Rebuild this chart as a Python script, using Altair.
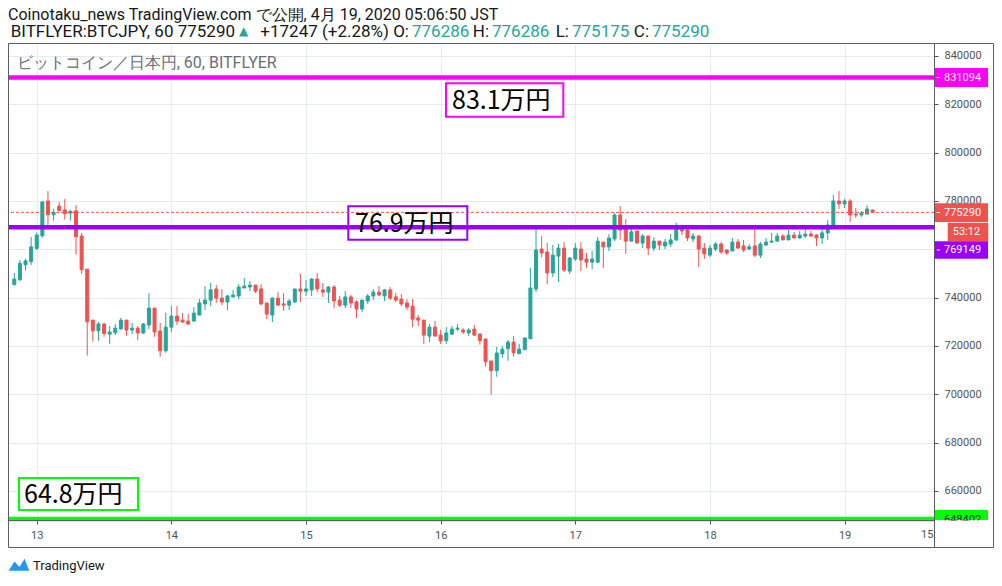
import altair as alt
import pandas as pd

# ---------------- data ----------------
# hourly candles, hours relative to Apr 13 00:00 JST (first = Apr 12 20:00)
hours = list(range(-4, 150))
opens = [745400, 747400, 753600, 754900, 760400, 765600, 780000, 774300, 777900, 776300,
         775000, 775900, 765500, 751800, 730700, 726300, 729100, 724900, 725500, 727100,
         730700, 726600, 727400, 725400, 728700, 735700, 726200, 718000, 727800, 732400,
         730700, 730300, 730300, 732800, 737400, 739000, 743600, 739800, 738200, 740300,
         740700, 744000, 744400, 745200, 743600, 737800, 732800, 739800, 737400, 736900,
         738200, 743600, 742700, 743200, 747700, 743200, 742300, 744400, 739000, 736900,
         740300, 738200, 735300, 738600, 740700, 742300, 740700, 743200, 740300, 739400,
         737800, 736500, 731600, 730700, 724100, 727800, 724500, 722200, 724900, 727000,
         726600, 725400, 727000, 724900, 722900, 713800, 709800, 716800, 718900, 721600,
         716800, 718500, 723000, 743600, 760100, 758900, 750200, 757200, 760500, 751000,
         756000, 760100, 756000, 754700, 754700, 763000, 761000, 764300, 774200, 768800,
         763400, 767600, 762600, 765500, 760500, 763400, 761400, 762200, 763900, 768800,
         768000, 764300, 765500, 760500, 757600, 760100, 762200, 759700, 759300, 763000,
         761400, 760100, 761400, 757600, 761800, 763000, 763400, 765500, 763900, 765900,
         764700, 765500, 766300, 765900, 764700, 766800, 769700, 780000, 778800, 780000,
         774600, 774200, 774600, 776286]
highs = [750200, 755600, 756000, 765100, 767000, 779900, 784100, 776800, 779600, 780800,
         776300, 778300, 766800, 751800, 730700, 729900, 729500, 728300, 729100, 731600,
         730700, 729500, 728300, 729500, 741900, 735700, 729600, 733800, 736500, 736500,
         733600, 733200, 736100, 739400, 744800, 746100, 745200, 743600, 741100, 743200,
         745600, 748100, 746900, 745200, 745600, 737800, 740300, 742300, 741900, 739400,
         743600, 749800, 747300, 748100, 750200, 746100, 744800, 745200, 740700, 742700,
         741100, 739000, 739000, 741500, 743600, 744800, 743600, 744400, 741900, 741500,
         739400, 739400, 732800, 730700, 729100, 730300, 726600, 727800, 728300, 729100,
         727400, 727400, 728700, 725400, 722900, 713800, 719600, 720000, 722500, 724100,
         720800, 723700, 752300, 769400, 765500, 762600, 761800, 762200, 763000, 756800,
         762600, 763000, 758500, 759300, 765100, 763000, 766300, 775000, 777900, 772500,
         769200, 767600, 766300, 765500, 765100, 763400, 764300, 766300, 770900, 769700,
         769700, 766800, 765900, 762600, 761800, 763000, 763000, 760100, 764700, 764300,
         763900, 762200, 770100, 763000, 764700, 766800, 766800, 766300, 768000, 767200,
         767600, 768800, 767600, 766300, 768800, 772100, 782500, 784100, 780800, 780800,
         777100, 775900, 778300, 776286]
lows = [745000, 747000, 751200, 753500, 759700, 764800, 769800, 771900, 775800, 772300,
        771900, 757800, 749900, 716000, 721800, 722200, 723800, 720800, 724500, 726600,
        724200, 724900, 722500, 724900, 727000, 723800, 715600, 717200, 725800, 728700,
        729500, 728700, 730300, 732800, 734900, 736500, 737800, 736900, 734900, 740300,
        739400, 744000, 742700, 741900, 736900, 731100, 729900, 736900, 734500, 734900,
        737800, 738200, 740700, 740700, 742300, 740300, 737800, 735700, 736100, 735700,
        735700, 731600, 734000, 737400, 739000, 740700, 738600, 739000, 738200, 736500,
        734900, 727800, 728300, 720800, 721600, 724100, 720800, 720900, 724500, 726200,
        724900, 724100, 724100, 720500, 711400, 699800, 707300, 715100, 713900, 715600,
        716800, 718500, 723000, 742300, 756800, 745600, 748500, 746500, 750600, 749800,
        755200, 751000, 752300, 751800, 754300, 752300, 759300, 763400, 763900, 758100,
        763400, 762600, 760500, 757600, 759300, 759700, 760100, 761000, 763400, 765900,
        763400, 763000, 752700, 756000, 756800, 759300, 758100, 757600, 759300, 760500,
        758900, 759700, 756800, 756400, 761400, 762600, 763400, 763900, 763900, 764700,
        764300, 764700, 765100, 761400, 762200, 763900, 768400, 776700, 777100, 771300,
        773000, 773400, 774600, 775175]
closes = [747700, 754200, 755200, 761000, 765900, 779600, 774300, 775300, 776000, 774800,
          775700, 765200, 751600, 730000, 726300, 729100, 725200, 725800, 727400, 730700,
          726600, 727400, 725400, 729100, 735700, 725800, 718000, 727800, 732400, 730300,
          729900, 729100, 733600, 737800, 739000, 743200, 739800, 738200, 740700, 741100,
          744400, 744800, 745200, 742700, 737400, 733200, 739800, 736900, 736900, 738600,
          743600, 742700, 743600, 747700, 743600, 742300, 744400, 738600, 736900, 740300,
          737800, 735300, 739000, 740700, 742300, 741100, 743200, 739800, 739000, 737400,
          736100, 731100, 730700, 724500, 727800, 724100, 722100, 725400, 727000, 727400,
          725800, 726600, 724500, 722200, 713500, 709800, 717100, 718700, 721600, 717200,
          718700, 723300, 744000, 759700, 758500, 750200, 757600, 760500, 751400, 756400,
          760500, 755600, 754700, 756000, 763400, 761000, 764700, 774200, 768000, 763400,
          767200, 762600, 765500, 760500, 763400, 761800, 763000, 763900, 768400, 767600,
          764700, 765500, 760100, 758100, 760500, 762200, 758900, 758500, 763000, 760500,
          759700, 761000, 757600, 762200, 763000, 763400, 765500, 763900, 765900, 764700,
          765900, 766300, 765500, 764700, 766800, 770100, 780000, 778800, 780000, 774200,
          774200, 775000, 776700, 775290]

day_ticks = [0, 24, 48, 72, 96, 120, 144]
day_names = ["13", "14", "15", "16", "17", "18", "19"]
price_ticks = [660000, 680000, 700000, 720000, 740000, 760000, 780000, 800000, 820000, 840000]
level_prices = [831094, 769149, 648402]
level_colors = ["#ff00ff", "#9900ff", "#00ff00"]
last_price = 775290

UP, DOWN = "#26a69a", "#ef5350"
GRID = "#e4ebf1"
AXC = "#4f525c"
FRAME = "#5a5d68"
TXT = "#131722"

df = pd.DataFrame({"t": hours, "o": opens, "h": highs, "l": lows, "c": closes})
df["dir"] = ["up" if c >= o else "down" for o, c in zip(opens, closes)]
df["bt"] = df[["o", "c"]].max(axis=1)
df["bb"] = df[["o", "c"]].min(axis=1)

W, H = 926, 475
xscale = alt.Scale(domain=[-4.232, 159.05], nice=False, zero=False)
yscale = alt.Scale(domain=[648000, 844550], nice=False, zero=False)
cscale = alt.Scale(domain=["up", "down"], range=[UP, DOWN])

label_expr = "{" + ",".join(f"'{v}':'{n}'" for v, n in zip(day_ticks, day_names)) + "}[datum.value]"

xaxis = alt.Axis(values=day_ticks, labelExpr=label_expr, grid=True, gridColor=GRID,
                 domain=False, tickSize=4, tickColor=AXC, labelColor=AXC,
                 labelFont="Roboto", labelFontSize=11, labelPadding=5,
                 labelFlush=False, labelOverlap=False, title="")
yaxis = alt.Axis(orient="right", values=price_ticks, format="d", grid=True,
                 gridColor=GRID, domain=False, tickSize=4, tickColor=AXC,
                 labelColor=AXC, labelFont="Roboto", labelFontSize=11,
                 labelPadding=6, labelAlign="left", labelOverlap=False, title="")

one = pd.DataFrame({"k": [0]})


def txt(s, x, y, size, color, font="Roboto", align="left", baseline="middle"):
    return alt.Chart(one).mark_text(text=s, align=align, baseline=baseline, font=font,
                                    fontSize=size, color=color).encode(
        x=alt.value(x), y=alt.value(y))


def rect(x, x2, y, y2, fill, stroke=None, sw=0):
    props = {"fill": fill}
    if stroke:
        props.update(stroke=stroke, strokeWidth=sw)
    return alt.Chart(one).mark_rect(**props).encode(
        x=alt.value(x), x2=alt.value(x2), y=alt.value(y), y2=alt.value(y2))


def rule(x, x2, y, y2, color, sw=1):
    return alt.Chart(one).mark_rule(color=color, strokeWidth=sw).encode(
        x=alt.value(x), x2=alt.value(x2), y=alt.value(y), y2=alt.value(y2))


base = alt.Chart(df)

wicks = base.mark_rule(strokeWidth=1).encode(
    x=alt.X("t:Q", scale=xscale, axis=xaxis),
    y=alt.Y("l:Q", scale=yscale, axis=yaxis),
    y2="h:Q",
    color=alt.Color("dir:N", scale=cscale, legend=None),
)

bodies = base.mark_bar(size=3, strokeWidth=1).encode(
    x=alt.X("t:Q", scale=xscale, axis=xaxis),
    y=alt.Y("bb:Q", scale=yscale, axis=yaxis),
    y2="bt:Q",
    color=alt.Color("dir:N", scale=cscale, legend=None),
    stroke=alt.Stroke("dir:N", scale=cscale, legend=None),
)

lv = pd.DataFrame({"p": level_prices, "col": level_colors})
levels = alt.Chart(lv).mark_rule(strokeWidth=4.5).encode(
    y=alt.Y("p:Q", scale=yscale, axis=yaxis),
    color=alt.Color("col:N", scale=None),
)

lastline = alt.Chart(pd.DataFrame({"p": [last_price]})).mark_rule(
    color=DOWN, strokeWidth=1, strokeDash=[3, 2]).encode(
    y=alt.Y("p:Q", scale=yscale, axis=yaxis))

HY = -13.2
RX = 985.5  # right edge of the frame (inside the page)
layers = [wicks, bodies,
          # annotation boxes (white fill, drawn under the level lines)
          rect(438, 555.3, 38.3, 71.7, "white", "#ff00ff", 2),
          rect(340.3, 459.3, 161.3, 194.7, "white", "#9900ff", 2),
          rect(11, 130, 433, 465, "white", "#00ff00", 2),
          levels, lastline,
          txt("83.1万円", 444, 55.5, 25, "#000000", font="Noto Sans CJK JP"),
          txt("76.9万円", 347, 178.5, 25, "#000000", font="Noto Sans CJK JP"),
          txt("64.8万円", 16, 449.5, 25, "#000000", font="Noto Sans CJK JP"),
          # legend inside the pane
          txt("ビットコイン／日本円, 60, BITFLYER", 8.7, 17.5, 16, "#6a6d78"),
          # header
          txt("Coinotaku_news TradingView.com で公開, 4月 19, 2020 05:06:50 JST", 0, -30.5, 16, TXT),
          txt("BITFLYER:BTCJPY, 60 775290", 227, HY, 17, TXT, align="right"),
          txt("▲", 231, -14.5, 12, UP, font="DejaVu Sans"),
          txt("+17247 (+2.28%) O:", 401, HY, 17, TXT, align="right"),
          txt("776286", 404, HY, 17, UP),
          txt("H:", 481, HY, 17, TXT, align="right"),
          txt("776286", 484, HY, 17, UP),
          txt("L:", 561, HY, 17, TXT, align="right"),
          txt("775175", 564, HY, 17, UP),
          txt("C:", 641, HY, 17, TXT, align="right"),
          txt("775290", 644, HY, 17, UP),
          # price-scale labels
          rect(927, 980, 23, 42, "#ff00ff"),
          txt("831094", 936, 32.8, 11, "white"),
          rect(927, 980, 158.3, 177, DOWN),
          txt("775290", 936, 167.8, 11, "white"),
          rect(939.7, 980.3, 177.7, 196.3, DOWN),
          txt("53:12", 944.7, 187.2, 11, "white"),
          rect(927, 980, 196.3, 213.7, "#9900ff"),
          txt("769149", 936, 205.2, 11, "white"),
          rect(927, 980, 465, 475, "#00ff00"),
          txt("648402", 936, 474.5, 11, TXT),
          rule(928.7, 932, 32.5, 32.5, "white"),
          rule(928.7, 932, 167.5, 167.5, "white"),
          rule(928.7, 932, 205, 205, "white"),
          rect(926.5, RX, 475.5, 502, "white"),
          txt("15:", 913, 484, 11, AXC, baseline="top"),
          # frame and separators
          rule(0.5, RX, -1.5, -1.5, FRAME),
          rule(0.5, RX, 502.5, 502.5, FRAME),
          rule(0.5, 0.5, -1.5, 502.5, FRAME),
          rule(RX, RX, -1.5, 502.5, FRAME),
          rule(926.5, 926.5, -1.5, 502.5, FRAME),
          rule(0.5, 926.5, 475.5, 475.5, FRAME),
          # TradingView logo
          alt.Chart(one).mark_point(
              shape="M-1,0.55 L-0.45,-0.35 L0.05,0.2 L0.55,-0.6 L1,0.55 Z",
              filled=True, color="#2196f3", opacity=1, size=420).encode(
              x=alt.value(11), y=alt.value(520)),
          txt("TradingView", 25, 521, 13, TXT),
          ]

chart = alt.layer(*layers).properties(
    width=W, height=H,
    autosize=alt.AutoSizeParams(type="none"),
    padding={"left": 0, "top": 37, "right": 60, "bottom": 54},
).configure_view(strokeWidth=0)

chart.save("out.html", embed_options={"renderer": "svg", "actions": False})
